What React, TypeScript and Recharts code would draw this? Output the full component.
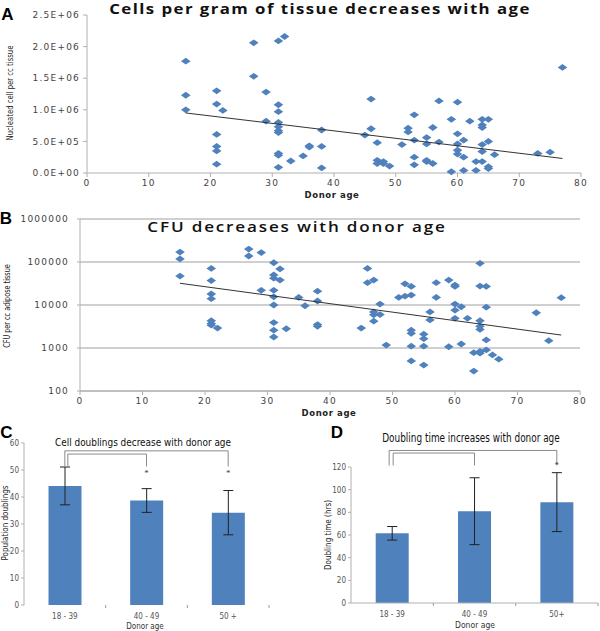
import React from "react";
import {
  ScatterChart,
  Scatter,
  XAxis,
  YAxis,
  CartesianGrid,
  BarChart,
  Bar,
  ErrorBar,
  ReferenceLine,
  ReferenceDot,
} from "recharts";

// ---- Panel A: nucleated cells per cc tissue vs donor age
const nucleatedByAge: [number, number[]][] = [
  [16, [1770000, 1230000, 1000000]],
  [21, [1300000, 1090000, 610000, 420000, 350000, 140000]],
  [22, [990000]],
  [27, [2060000, 1530000]],
  [29, [1280000, 820000]],
  [31, [2090000, 1080000, 970000, 800000, 730000, 670000, 640000, 310000, 280000, 90000]],
  [32, [2160000]],
  [33, [190000]],
  [35, [270000]],
  [36, [410000, 430000]],
  [38, [680000, 420000, 80000]],
  [45, [600000]],
  [46, [1170000, 700000]],
  [47, [480000, 150000, 200000]],
  [48, [180000, 150000]],
  [49, [110000]],
  [51, [450000]],
  [52, [710000, 650000]],
  [53, [920000, 520000, 250000, 130000]],
  [55, [560000, 460000, 180000, 200000]],
  [56, [720000, 150000]],
  [57, [1140000, 490000]],
  [59, [850000, 20000]],
  [60, [1120000, 620000, 460000, 360000, 300000]],
  [61, [520000, 250000, 40000]],
  [62, [820000]],
  [63, [180000, 40000]],
  [64, [850000, 760000, 720000, 450000, 340000, 180000]],
  [65, [850000, 500000, 100000, 70000]],
  [66, [290000]],
  [73, [310000]],
  [75, [330000]],
  [77, [1670000]],
];
const nucleatedTrendAge = [16, 77];
const nucleatedTrendValue = [950000, 230000];
const nucleatedTicks = [0, 500000, 1000000, 1500000, 2000000, 2500000];

// ---- Panel B: CFU per cc adipose tissue vs donor age (log axis)
const cfuByAge: [number, number[]][] = [
  [16, [170000, 118000, 47000]],
  [21, [71000, 37000, 18000, 14000, 4300, 3700, 3400]],
  [22, [2900]],
  [27, [200000, 138000]],
  [29, [166000, 22000]],
  [31, [96000, 50000, 42000, 22000, 15500, 10000, 3900, 2600, 1800]],
  [32, [69000, 38000]],
  [33, [2800]],
  [35, [15000]],
  [36, [9600]],
  [38, [21000, 12400, 3500, 3200]],
  [45, [2900]],
  [46, [71000, 33000]],
  [47, [38000, 6900, 5900, 4200]],
  [48, [10500, 6000]],
  [49, [1170]],
  [51, [15000]],
  [52, [31000, 16000]],
  [53, [27000, 17000, 2600, 2200, 1100, 500]],
  [55, [2100, 1650, 1100, 400]],
  [56, [6900, 4500]],
  [57, [33000, 15000]],
  [59, [38000, 1070]],
  [60, [29000, 27000, 10500, 7600, 4900]],
  [61, [9100, 1240]],
  [62, [4900]],
  [63, [780, 290]],
  [64, [93000, 27500, 4300, 3200, 2700, 830, 760]],
  [65, [27000, 8900, 1540, 900]],
  [66, [690]],
  [67, [550]],
  [73, [6600]],
  [75, [1480]],
  [77, [14800]],
];
const cfuTrendAge = [16, 77];
const cfuTrendValue = [32000, 2000];
const cfuTicks = [100, 1000, 10000, 100000, 1000000];

const ageTicks = [0, 10, 20, 30, 40, 50, 60, 70, 80];

// ---- Panel C: population doublings by donor age group
const groupsC = ["18 - 39", "40 - 49", "50 +"];
const doublings = [44.1, 38.7, 34.2];
const doublingsErr = [7, 4.4, 8.2];
const doublingsStars = ["40 - 49", "50 +"];
const doublingsStarLevel = 49.1;
const bracketsC = [
  { from: "18 - 39", to: "50 +", top: 57.1, foot: 51.3 },
  { from: "18 - 39", to: "40 - 49", top: 55.9, foot: 51.3 },
];

// ---- Panel D: doubling time by donor age group
const groupsD = ["18 - 39", "40 - 49", "50+"];
const doublingTime = [61.5, 81, 89];
const doublingTimeErr = [6, 29.5, 26];
const doublingTimeStars = ["50+"];
const doublingTimeStarLevel = 121.5;
const bracketsD = [
  { from: "18 - 39", to: "50+", top: 134.6, foot: 121.4 },
  { from: "18 - 39", to: "40 - 49", top: 132.3, foot: 121.4 },
];

const BLUE = "#4f81bd";
const NARROW = "'Liberation Sans Narrow', 'DejaVu Sans Condensed', Roboto, sans-serif";
const WIDE = "'DejaVu Sans', Verdana, sans-serif";

const toPoints = (groups: [number, number[]][]) =>
  groups.flatMap(([age, vals]) => vals.map((v) => ({ age, v })));

const cellsData = toPoints(nucleatedByAge);
const cellsTrend = nucleatedTrendAge.map((age, i) => ({ age, v: nucleatedTrendValue[i] }));
const cfuData = toPoints(cfuByAge);
const cfuTrend = cfuTrendAge.map((age, i) => ({ age, v: cfuTrendValue[i] }));
const dataC = groupsC.map((g, i) => ({ g, v: doublings[i], err: doublingsErr[i] }));
const dataD = groupsD.map((g, i) => ({ g, v: doublingTime[i], err: doublingTimeErr[i] }));

const sci = (v: number) => {
  if (v === 0) return "0.0E+00";
  const e = Math.floor(Math.log10(v));
  return `${(v / 10 ** e).toFixed(1)}E+${String(e).padStart(2, "0")}`;
};

const Diamond = (p: any) => {
  const { cx, cy } = p;
  if (cx == null || cy == null) return <g />;
  return (
    <polygon
      points={`${cx},${cy - 3.4} ${cx + 4.8},${cy} ${cx},${cy + 3.4} ${cx - 4.8},${cy}`}
      fill={BLUE}
    />
  );
};
const NoDot = () => <g />;

const wideTick = { fontFamily: WIDE, fontSize: 9, fill: "#444", letterSpacing: 1.2 };
const narrowTick = { fontFamily: NARROW, fontSize: 8, fill: "#555" };
const axisGray = { stroke: "#b0b0b0" };

const Txt = ({ x, y, rotate, sx = 1, style, children }: any) => (
  <div
    style={{
      position: "absolute",
      left: x,
      top: y,
      transform: `translate(-50%, -50%)${rotate ? " rotate(-90deg)" : ""} scaleX(${sx})`,
      whiteSpace: "nowrap",
      lineHeight: 1,
      ...style,
    }}
  >
    {children}
  </div>
);

const seg = (dx1: number, dx2: number) => (p: any) =>
  <line x1={p.x1 + dx1} y1={p.y1} x2={p.x2 + dx2} y2={p.y2} stroke="#8a8a8a" strokeWidth={1} />;

const bracket = (b: any, key: string, leftDx: number) => [
  <ReferenceLine key={key + "h"} ifOverflow="visible"
    segment={[{ x: b.from, y: b.top }, { x: b.to, y: b.top }]} shape={seg(leftDx, 0)} />,
  <ReferenceLine key={key + "l"} ifOverflow="visible"
    segment={[{ x: b.from, y: b.top }, { x: b.from, y: b.foot }]} shape={seg(leftDx, leftDx)} />,
  <ReferenceLine key={key + "r"} ifOverflow="visible"
    segment={[{ x: b.to, y: b.top }, { x: b.to, y: b.foot }]} shape={seg(0, 0)} />,
];

// small tick marks on the category boundaries (Excel style)
const tickMark = (p: any) => {
  const y = Math.max(p.y1, p.y2);
  return <line x1={p.x1} y1={y} x2={p.x1} y2={y + 3} stroke="#999" strokeWidth={1} />;
};
const boundaryTicks = (groups: string[], key: string) => [
  ...groups.slice(1).map((g) => (
    <ReferenceLine key={key + g} position="start" ifOverflow="visible"
      segment={[{ x: g, y: 0 }, { x: g, y: 1 }]} shape={tickMark} />
  )),
  <ReferenceLine key={key + "end"} position="end" ifOverflow="visible"
    segment={[{ x: groups[groups.length - 1], y: 0 }, { x: groups[groups.length - 1], y: 1 }]} shape={tickMark} />,
];

const star = (g: string, level: number) => (
  <ReferenceDot key={g} x={g} y={level} r={0} ifOverflow="visible"
    label={{ value: "*", position: "center", fontSize: 9, fill: "#444" }} />
);

const letter = { fontFamily: "'Liberation Sans', Arial, sans-serif", fontWeight: 700, fontSize: 17 };
const axisTitleWide = { fontFamily: WIDE, fontWeight: 700, fontSize: 8.5, color: "#222", letterSpacing: 0.6 };
const yTitle = { fontFamily: NARROW, fontSize: 9, color: "#222" };

export default function App() {
  return (
    <div style={{ position: "absolute", left: 0, top: 0, width: 600, height: 631, background: "#fff", overflow: "hidden" }}>
      {/* Panel A */}
      <div style={{ position: "absolute", left: 0, top: 0 }}>
        <ScatterChart width={600} height={200} margin={{ top: 15, right: 19, bottom: 5, left: 7 }}>
          <XAxis dataKey="age" type="number" domain={[0, 80]} ticks={ageTicks} height={22}
            tickSize={4} tickMargin={3} axisLine={axisGray} tickLine={axisGray} tick={wideTick} />
          <YAxis dataKey="v" type="number" domain={[0, 2500000]} ticks={nucleatedTicks} width={80}
            tickFormatter={sci} tickSize={4} tickMargin={3} axisLine={axisGray} tickLine={axisGray} tick={wideTick} />
          <Scatter data={cellsData} shape={Diamond} isAnimationActive={false} />
          <Scatter data={cellsTrend} shape={NoDot} line={{ stroke: "#333", strokeWidth: 1 }} isAnimationActive={false} />
        </ScatterChart>
      </div>

      {/* Panel B */}
      <div style={{ position: "absolute", left: 0, top: 200 }}>
        <ScatterChart width={600} height={220} margin={{ top: 19, right: 20, bottom: 7, left: 5 }}>
          <CartesianGrid vertical={false} stroke="#a0a0a0" />
          <XAxis dataKey="age" type="number" domain={[0, 80]} ticks={ageTicks} height={22}
            tickSize={4} tickMargin={3} axisLine={axisGray} tickLine={axisGray} tick={wideTick} />
          <YAxis dataKey="v" type="number" scale="log" domain={[100, 1000000]} ticks={cfuTicks} width={75}
            allowDataOverflow tickSize={3} tickMargin={8} axisLine={axisGray} tickLine={axisGray} tick={wideTick} />
          <Scatter data={cfuData} shape={Diamond} isAnimationActive={false} />
          <Scatter data={cfuTrend} shape={NoDot} line={{ stroke: "#333", strokeWidth: 1 }} isAnimationActive={false} />
        </ScatterChart>
      </div>

      {/* Panel C */}
      <div style={{ position: "absolute", left: 0, top: 400 }}>
        <BarChart width={300} height={231} data={dataC} barCategoryGap="30%"
          margin={{ top: 43, right: 31, bottom: 12, left: 4 }}>
          <XAxis dataKey="g" height={14} axisLine={false} tickLine={false} tick={narrowTick} tickMargin={2} />
          <YAxis domain={[0, 60]} ticks={[0, 10, 20, 30, 40, 50, 60]} width={20}
            tickSize={3} tickMargin={2} axisLine={axisGray} tickLine={axisGray} tick={narrowTick} />
          <Bar dataKey="v" fill={BLUE} isAnimationActive={false}>
            <ErrorBar dataKey="err" width={5} stroke="#222" strokeWidth={1} />
          </Bar>
          {boundaryTicks(groupsC, "cb")}
          {bracket(bracketsC[0], "c0", 0)}
          {bracket(bracketsC[1], "c1", 3)}
          {doublingsStars.map((g) => star(g, doublingsStarLevel))}
        </BarChart>
      </div>

      {/* Panel D */}
      <div style={{ position: "absolute", left: 300, top: 400 }}>
        <BarChart width={300} height={231} data={dataD} barCategoryGap="30%"
          margin={{ top: 67, right: 2, bottom: 14, left: 21 }}>
          <XAxis dataKey="g" height={14} axisLine={axisGray} tickLine={false} tick={narrowTick} tickMargin={2} />
          <YAxis domain={[0, 120]} ticks={[0, 20, 40, 60, 80, 100, 120]} width={30}
            tickSize={3} tickMargin={2} axisLine={axisGray} tickLine={axisGray} tick={narrowTick} />
          <Bar dataKey="v" fill={BLUE} isAnimationActive={false}>
            <ErrorBar dataKey="err" width={5} stroke="#222" strokeWidth={1} />
          </Bar>
          {boundaryTicks(groupsD, "db")}
          {bracket(bracketsD[0], "d0", -3)}
          {bracket(bracketsD[1], "d1", 1)}
          {doublingTimeStars.map((g) => star(g, doublingTimeStarLevel))}
        </BarChart>
      </div>

      {/* Texts */}
      <Txt x={7.5} y={13.5} style={letter}>A</Txt>
      <Txt x={6} y={217.5} style={letter}>B</Txt>
      <Txt x={6.5} y={431.5} style={letter}>C</Txt>
      <Txt x={337} y={432} style={letter}>D</Txt>

      <Txt x={320} y={8.5} sx={1.2} style={{ fontFamily: "'Open Sans', sans-serif", fontWeight: 700, fontSize: 14, letterSpacing: 1.2, color: "#111" }}>
        Cells per gram of tissue decreases with age
      </Txt>
      <Txt x={297} y={227} sx={1.22} style={{ fontFamily: "'Open Sans', sans-serif", fontWeight: 600, fontSize: 14, letterSpacing: 1.5, color: "#111" }}>
        CFU decreases with donor age
      </Txt>
      <Txt x={143} y={441.5} sx={0.9} style={{ fontFamily: NARROW, fontSize: 11, color: "#111" }}>
        Cell doublings  decrease with donor age
      </Txt>
      <Txt x={471} y={439} sx={0.86} style={{ fontFamily: NARROW, fontSize: 11.5, color: "#111" }}>
        Doubling time increases with donor age
      </Txt>

      <Txt x={10} y={93} rotate sx={0.85} style={yTitle}>Nucleated cell per cc tissue</Txt>
      <Txt x={6.5} y={306} rotate sx={0.8} style={yTitle}>CFU per cc adipose tissue</Txt>
      <Txt x={5.5} y={523} rotate style={{ ...yTitle, fontSize: 8 }}>Population doublings</Txt>
      <Txt x={329} y={535} rotate style={{ ...yTitle, fontSize: 8 }}>Doubling time (hrs)</Txt>

      <Txt x={332} y={195} style={axisTitleWide}>Donor age</Txt>
      <Txt x={329} y={413} style={axisTitleWide}>Donor age</Txt>
      <Txt x={145} y={626.5} style={{ fontFamily: NARROW, fontSize: 8, color: "#333" }}>Donor age</Txt>
      <Txt x={475} y={625} style={{ fontFamily: NARROW, fontSize: 8.5, color: "#333" }}>Donor age</Txt>
    </div>
  );
}
